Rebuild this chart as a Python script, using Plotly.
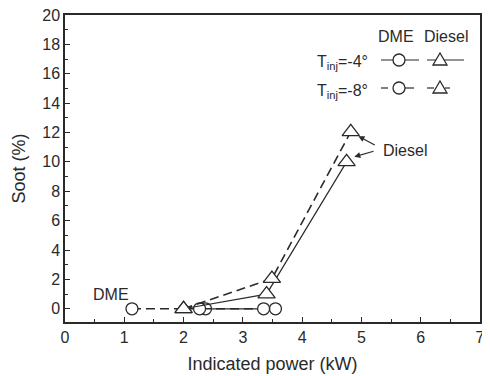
import plotly.graph_objects as go

# Data
dme_m4_x = [2.37, 3.55]
dme_m4_y = [0, 0]
dme_m8_x = [1.13, 2.27, 3.35]
dme_m8_y = [0, 0, 0]
dsl_m4_x = [2.0, 3.4, 4.75]
dsl_m4_y = [0, 1.0, 10.0]
dsl_m8_x = [2.0, 3.49, 4.82]
dsl_m8_y = [0, 2.05, 12.05]

FONT = "Liberation Sans, Arial, sans-serif"
INK = "#2a2a2a"
DASH = "9px,5px"

fig = go.Figure()

def add(x, y, symbol, dash, size, lw):
    fig.add_trace(go.Scatter(
        x=x, y=y, mode="lines+markers",
        line=dict(color=INK, width=lw, dash=dash),
        marker=dict(symbol=symbol, size=size, color="white",
                    line=dict(color=INK, width=1.3)),
        showlegend=False, cliponaxis=False))

add(dme_m4_x, dme_m4_y, "circle", "solid", 12, 1.2)
add(dme_m8_x, dme_m8_y, "circle", DASH, 12, 1.6)
add(dsl_m4_x, dsl_m4_y, "triangle-up", "solid", 15, 1.2)
add(dsl_m8_x, dsl_m8_y, "triangle-up", DASH, 15, 1.6)

# page body adds an 8px offset; geometry given in window pixels
OFF = 8
W, H = 490 - OFF, 376 - OFF
L, R, T, B = 65 - OFF, 10, 15 - OFF, 54
pw, ph = W - L - R, H - T - B

def px(xp):
    return (xp - OFF - L) / pw

def py(yp):
    return (H - B - (yp - OFF)) / ph

shapes = []
anns = []

# custom legend
anns.append(dict(x=px(396), y=py(36), xref="paper", yref="paper", text="DME",
                 xanchor="center", yanchor="middle",
                 showarrow=False, font=dict(size=16, family=FONT, color=INK)))
anns.append(dict(x=px(446), y=py(36), xref="paper", yref="paper", text="Diesel",
                 xanchor="center", yanchor="middle",
                 showarrow=False, font=dict(size=16, family=FONT, color=INK)))
rows = [("T<sub>inj</sub>=-4°", 60, [(381, 419), (427, 464)]),
        ("T<sub>inj</sub>=-8°", 88, [(381, 388), (405, 414), (427, 434), (445, 450)])]
for label, yy, segs in rows:
    anns.append(dict(x=px(370), y=py(yy + 3), xref="paper", yref="paper", text=label,
                     xanchor="right", yanchor="middle", showarrow=False,
                     font=dict(size=16, family=FONT, color=INK)))
    for a, b in segs:
        shapes.append(dict(type="line", xref="paper", yref="paper",
                           x0=px(a), x1=px(b), y0=py(yy), y1=py(yy),
                           line=dict(color=INK, width=1.2)))
    shapes.append(dict(type="circle", xref="paper", yref="paper",
                       xsizemode="pixel", ysizemode="pixel",
                       xanchor=px(399), yanchor=py(yy),
                       x0=-6, x1=6, y0=-6, y1=6,
                       fillcolor="white", line=dict(color=INK, width=1.3)))
    shapes.append(dict(type="path", xref="paper", yref="paper",
                       xsizemode="pixel", ysizemode="pixel",
                       xanchor=px(440), yanchor=py(yy),
                       path="M -7 -5 L 7 -5 L 0 7 Z",
                       fillcolor="white", line=dict(color=INK, width=1.3)))

# in-plot annotations
anns.append(dict(x=0.77, y=1.0, xref="x", yref="y", text="DME", showarrow=False,
                 font=dict(size=16, family=FONT, color=INK)))
anns.append(dict(x=5.73, y=10.75, xref="x", yref="y", text="Diesel", showarrow=False,
                 font=dict(size=16, family=FONT, color=INK)))
anns.append(dict(x=4.95, y=11.75, ax=5.25, ay=11.1, xref="x", yref="y",
                 axref="x", ayref="y", text="", showarrow=True, arrowhead=2,
                 arrowsize=1, arrowwidth=1.2, arrowcolor=INK))
anns.append(dict(x=4.88, y=10.35, ax=5.23, ay=10.75, xref="x", yref="y",
                 axref="x", ayref="y", text="", showarrow=True, arrowhead=2,
                 arrowsize=1, arrowwidth=1.2, arrowcolor=INK))

axis_common = dict(showline=True, linecolor=INK, linewidth=1.5, mirror=True,
                   ticks="inside", ticklen=5, tickwidth=1.2, tickcolor=INK,
                   showgrid=False, zeroline=False, automargin=False,
                   ticklabeloverflow="allow",
                   tickfont=dict(size=16, family=FONT, color=INK))

fig.update_layout(
    width=W, height=H,
    margin=dict(l=L, r=R, t=T, b=B),
    paper_bgcolor="white", plot_bgcolor="white",
    xaxis=dict(range=[0, 7], dtick=1, tick0=0,
               minor=dict(dtick=0.5, ticks="inside", ticklen=3, tickcolor=INK),
               title=dict(text="Indicated power (kW)", standoff=12,
                          font=dict(size=18, family=FONT, color=INK)),
               **axis_common),
    yaxis=dict(range=[-0.9, 20], dtick=2, tick0=0,
               minor=dict(dtick=1, ticks="inside", ticklen=3, tickcolor=INK),
               title=dict(text="Soot (%)", standoff=12,
                          font=dict(size=18, family=FONT, color=INK)),
               **axis_common),
    shapes=shapes,
    annotations=anns,
)

fig.write_html("out.html")
